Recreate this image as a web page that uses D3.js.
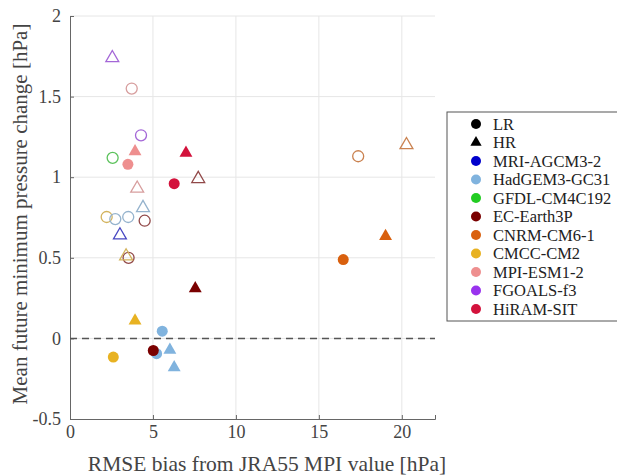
<!DOCTYPE html>
<html>
<head>
<meta charset="utf-8">
<script src="https://cdn.jsdelivr.net/npm/d3@7"></script>
<style>
  body { margin: 0; background: #fff; }
  text { font-family: "Liberation Serif", "Times New Roman", serif; fill: #333; }
</style>
</head>
<body>
<div id="chart"></div>
<script>
// model names and legend colours
var models = ["MRI-AGCM3-2", "HadGEM3-GC31", "GFDL-CM4C192", "EC-Earth3P", "CNRM-CM6-1",
              "CMCC-CM2", "MPI-ESM1-2", "FGOALS-f3", "HiRAM-SIT"];
var modelColors = ["#0000cc", "#80b3de", "#22cc22", "#7a0000", "#d9600e",
                   "#e8b222", "#ee8f8f", "#9933ee", "#d3123c"];

// [model, RMSE bias, pressure change]
var lrFilled = [
  ["HadGEM3-GC31", 5.56, 0.045], ["HadGEM3-GC31", 5.22, -0.095], ["EC-Earth3P", 5.02, -0.075],
  ["CMCC-CM2", 2.61, -0.116], ["CNRM-CM6-1", 16.47, 0.489], ["MPI-ESM1-2", 3.49, 1.08],
  ["HiRAM-SIT", 6.28, 0.96]
];
var hrFilled = [
  ["EC-Earth3P", 7.55, 0.31], ["CMCC-CM2", 3.92, 0.11], ["HadGEM3-GC31", 6.02, -0.072],
  ["HadGEM3-GC31", 6.28, -0.18], ["CNRM-CM6-1", 19.02, 0.634], ["MPI-ESM1-2", 3.92, 1.16],
  ["HiRAM-SIT", 6.99, 1.15]
];
var lrOpen = [
  ["FGOALS-f3", 4.28, 1.26], ["MPI-ESM1-2", 3.72, 1.55], ["GFDL-CM4C192", 2.57, 1.12],
  ["CMCC-CM2", 2.21, 0.753], ["HadGEM3-GC31", 2.73, 0.74], ["HadGEM3-GC31", 3.51, 0.753],
  ["EC-Earth3P", 4.50, 0.73], ["EC-Earth3P", 3.53, 0.50], ["CNRM-CM6-1", 17.37, 1.13]
];
var hrOpen = [
  ["FGOALS-f3", 2.55, 1.74], ["MPI-ESM1-2", 4.05, 0.93], ["HadGEM3-GC31", 4.40, 0.81],
  ["EC-Earth3P", 7.73, 0.99], ["MRI-AGCM3-2", 3.01, 0.64], ["CNRM-CM6-1", 20.28, 1.20],
  ["CMCC-CM2", 3.38, 0.51]
];
var xTicks = [0, 5, 10, 15, 20];
var yTicks = [-0.5, 0, 0.5, 1, 1.5, 2];

var width = 617, height = 475;
var margin = {left: 70, right: 182, top: 16, bottom: 56};

var svg = d3.select("#chart").append("svg")
  .attr("width", width).attr("height", height);

var x = d3.scaleLinear().domain([0, 22]).range([margin.left, width - margin.right]);
var y = d3.scaleLinear().domain([-0.5, 2]).range([height - margin.bottom, margin.top]);

var color = d3.scaleOrdinal().domain(models).range(modelColors);
function openColor(m) {
  return d3.interpolateRgb(color(m), "#b4b4b4")(0.4);
}

// grid
svg.append("g").selectAll("line").data(xTicks.slice(1)).enter().append("line")
  .attr("x1", d => x(d)).attr("x2", d => x(d))
  .attr("y1", y(-0.5)).attr("y2", y(2))
  .style("stroke", "#e6e6e6");
svg.append("g").selectAll("line").data(yTicks.slice(1)).enter().append("line")
  .attr("x1", x(0)).attr("x2", x(22))
  .attr("y1", d => y(d)).attr("y2", d => y(d))
  .style("stroke", "#e6e6e6");

// axes
var xAxis = d3.axisBottom(x).tickValues(xTicks).tickSize(-4).tickPadding(6).tickFormat(d3.format("d"));
var yAxis = d3.axisLeft(y).tickValues(yTicks).tickSize(-4).tickPadding(9).tickFormat(d => d);

var gx = svg.append("g").attr("transform", "translate(0," + y(-0.5) + ")").call(xAxis);
var gy = svg.append("g").attr("transform", "translate(" + x(0) + ",0)").call(yAxis);
[gx, gy].forEach(function (g) {
  g.attr("font-family", null);
  g.select(".domain").style("stroke", "#666");
  g.selectAll(".tick line").style("stroke", "#666");
  g.selectAll("text").style("font-family", "'Liberation Serif', serif").style("font-size", "18px").style("fill", "#444");
});

// zero line
svg.append("line")
  .attr("x1", x(0)).attr("x2", x(22))
  .attr("y1", y(0)).attr("y2", y(0))
  .style("stroke", "#555").style("stroke-width", 1.5).style("stroke-dasharray", "7,5");

var tri = d3.symbol().type(d3.symbolTriangle).size(72);

// open markers
svg.append("g").selectAll("circle").data(lrOpen).enter().append("circle")
  .attr("cx", d => x(d[1])).attr("cy", d => y(d[2])).attr("r", 5.5)
  .style("fill", "none").style("stroke", d => openColor(d[0])).style("stroke-width", 1.3);
svg.append("g").selectAll("path").data(hrOpen).enter().append("path")
  .attr("d", tri).attr("transform", d => "translate(" + x(d[1]) + "," + y(d[2]) + ")")
  .style("fill", "none").style("stroke", d => openColor(d[0])).style("stroke-width", 1.3);

// filled markers
svg.append("g").selectAll("circle").data(lrFilled).enter().append("circle")
  .attr("cx", d => x(d[1])).attr("cy", d => y(d[2])).attr("r", 5.5)
  .style("fill", d => color(d[0]));
svg.append("g").selectAll("path").data(hrFilled).enter().append("path")
  .attr("d", tri).attr("transform", d => "translate(" + x(d[1]) + "," + y(d[2]) + ")")
  .style("fill", d => color(d[0]));

// axis labels
svg.append("text").attr("x", 267).attr("y", 471).attr("text-anchor", "middle")
  .style("font-size", "21.5px").style("fill", "#444")
  .text("RMSE bias from JRA55 MPI value [hPa]");
svg.append("text").attr("transform", "translate(27,214) rotate(-90)")
  .attr("text-anchor", "middle").style("font-size", "21px").style("fill", "#444")
  .text("Mean future minimum pressure change [hPa]");

// legend
var legend = svg.append("g").attr("transform", "translate(447,112)");
legend.append("rect").attr("width", 180).attr("height", 209)
  .style("fill", "#fff").style("stroke", "#555");
var entries = [{name: "LR", shape: "circle", c: "#000"}, {name: "HR", shape: "triangle", c: "#000"}]
  .concat(models.map(m => ({name: m, shape: "circle", c: color(m)})));
var rows = legend.selectAll("g.row").data(entries).enter().append("g")
  .attr("class", "row")
  .attr("transform", (d, i) => "translate(29," + (12 + i * 18.5) + ")");
rows.filter(d => d.shape === "circle").append("circle").attr("r", 5).style("fill", d => d.c);
rows.filter(d => d.shape === "triangle").append("path")
  .attr("d", d3.symbol().type(d3.symbolTriangle).size(55)).style("fill", d => d.c);
rows.append("text").attr("x", 17).attr("dy", "0.35em")
  .style("font-size", "16.5px").style("fill", "#222").text(d => d.name);
</script>
</body>
</html>
